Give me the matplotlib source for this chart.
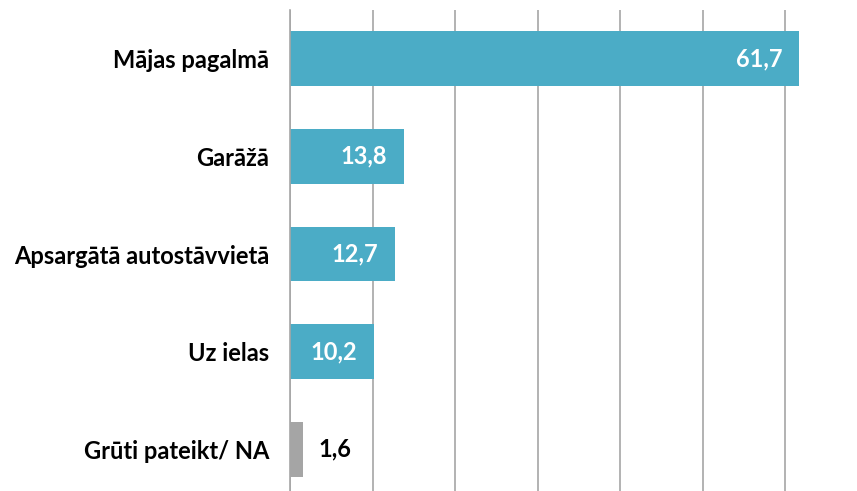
import numpy as np
import matplotlib
matplotlib.use("Agg")
import matplotlib.pyplot as plt

categories = ["Mājas pagalmā", "Garāžā", "Apsargātā autostāvvietā", "Uz ielas", "Grūti pateikt/ NA"]
values = [61.7, 13.8, 12.7, 10.2, 1.6]
colors = ["#4BACC6", "#4BACC6", "#4BACC6", "#4BACC6", "#A5A5A5"]

plt.rcParams['font.family'] = ['Lato', 'DejaVu Sans']

fig = plt.figure(figsize=(8.57, 4.91), dpi=100)
ax = fig.add_axes([290/857, -7/491, 1 - 290/857, 488/491])

y = np.arange(len(categories))
ax.barh(y, values, height=0.56, color=colors, zorder=2)
ax.set_ylim(len(categories) - 0.5, -0.5)
ax.set_xlim(0, 68.7)

ax.set_xticks(np.arange(0, 70, 10))
ax.grid(axis="x", color="#A6A6A6", linewidth=1.2, zorder=0)
ax.tick_params(axis="x", length=0, labelbottom=False)
ax.tick_params(axis="y", length=0, pad=15)
ax.set_yticks(y)
ax.set_yticklabels(categories, fontsize=17, fontweight="bold")
for s in ["top", "right", "bottom"]:
    ax.spines[s].set_visible(False)
ax.spines["left"].set_color("#A6A6A6")
ax.spines["left"].set_linewidth(1.2)

for i, v in enumerate(values):
    txt = f"{v:.1f}".replace(".", ",")
    if v > 5:
        ax.annotate(txt, (v, i), xytext=(-12, 0), textcoords="offset points",
                    ha="right", va="center", color="white", fontsize=17, fontweight="bold", zorder=3)
    else:
        ax.annotate(txt, (v, i), xytext=(11, 0), textcoords="offset points",
                    ha="left", va="center", color="black", fontsize=17, fontweight="bold", zorder=3)

fig.savefig("out.png", dpi=100)
